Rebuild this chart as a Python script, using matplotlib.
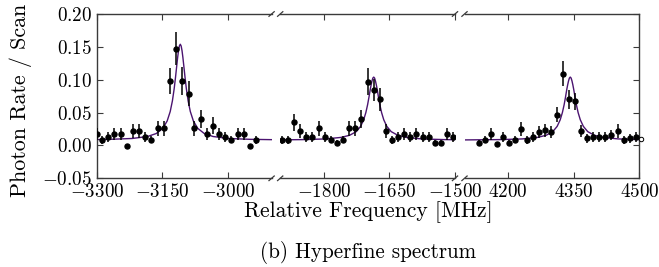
import matplotlib.pyplot as plt
from matplotlib.ticker import FuncFormatter

plt.rcParams['font.family'] = 'serif'
plt.rcParams['font.serif'] = ['cmr10']
plt.rcParams['mathtext.fontset'] = 'cm'
plt.rcParams['axes.formatter.use_mathtext'] = True

# --- measured points (relative frequency in MHz, photon rate / scan) ---
freq_a = [-3300, -3287, -3274, -3260, -3245, -3231, -3217, -3203, -3189, -3175,
          -3160, -3147, -3132, -3119, -3105, -3090, -3077, -3062, -3048, -3034,
          -3020, -3006, -2992, -2977, -2964, -2949, -2935]
rate_a = [0.017, 0.008, 0.013, 0.017, 0.017, -0.001, 0.022, 0.022, 0.013, 0.009,
          0.026, 0.026, 0.098, 0.147, 0.098, 0.079, 0.026, 0.040, 0.017, 0.030,
          0.017, 0.013, 0.009, 0.017, 0.017, -0.001, 0.008]
err_a = [0.009, 0.006, 0.008, 0.009, 0.009, 0.0, 0.010, 0.010, 0.008, 0.006,
         0.011, 0.011, 0.020, 0.025, 0.021, 0.019, 0.011, 0.014, 0.009, 0.013,
         0.009, 0.008, 0.006, 0.009, 0.009, 0.0, 0.006]

freq_b = [-1897, -1883, -1869, -1855, -1840, -1827, -1812, -1798, -1784, -1770,
          -1756, -1743, -1728, -1715, -1700, -1686, -1672, -1659, -1644, -1630,
          -1617, -1602, -1589, -1574, -1560, -1546, -1532, -1518, -1504]
rate_b = [0.008, 0.008, 0.035, 0.022, 0.013, 0.013, 0.026, 0.013, 0.009, 0.004,
          0.009, 0.026, 0.026, 0.040, 0.097, 0.084, 0.070, 0.022, 0.008, 0.013,
          0.017, 0.013, 0.017, 0.013, 0.013, 0.004, 0.004, 0.017, 0.013]
err_b = [0.006, 0.006, 0.013, 0.010, 0.008, 0.008, 0.011, 0.008, 0.006, 0.004,
         0.006, 0.011, 0.011, 0.014, 0.021, 0.017, 0.018, 0.010, 0.006, 0.008,
         0.009, 0.008, 0.009, 0.008, 0.008, 0.004, 0.004, 0.009, 0.008]

freq_c = [4133, 4147, 4160, 4174, 4188, 4202, 4216, 4230, 4244, 4257,
          4271, 4285, 4299, 4312, 4326, 4340, 4353, 4367, 4381, 4395,
          4408, 4422, 4436, 4451, 4464, 4478, 4492]
rate_c = [0.004, 0.009, 0.017, 0.002, 0.013, 0.004, 0.009, 0.025, 0.008, 0.013,
          0.020, 0.023, 0.020, 0.047, 0.109, 0.070, 0.067, 0.022, 0.011, 0.013,
          0.013, 0.013, 0.016, 0.022, 0.008, 0.011, 0.013]
err_c = [0.004, 0.006, 0.009, 0.002, 0.008, 0.004, 0.006, 0.010, 0.006, 0.008,
         0.009, 0.010, 0.009, 0.011, 0.019, 0.014, 0.013, 0.009, 0.007, 0.008,
         0.008, 0.008, 0.008, 0.010, 0.006, 0.007, 0.008]

# hollow point sitting on the right edge
edge_freq = [4505]
edge_rate = [0.010]

# --- fitted line shapes ---
fit_freq_a = [-3300, -3269, -3219, -3184, -3164, -3149, -3139, -3132, -3127, -3123,
              -3120, -3117, -3115, -3113, -3111, -3109, -3107, -3105, -3103, -3101,
              -3098, -3095, -3091, -3086, -3079, -3069, -3054, -3034, -2999, -2949, -2900]
fit_rate_a = [0.0089, 0.0093, 0.0106, 0.0136, 0.0181, 0.026, 0.0372, 0.0516, 0.0678, 0.086,
              0.1029, 0.1217, 0.1339, 0.1443, 0.1514, 0.154, 0.1514, 0.1443, 0.1339, 0.1217,
              0.1029, 0.086, 0.0678, 0.0516, 0.0372, 0.026, 0.0181, 0.0136, 0.0106, 0.0093, 0.0088]

fit_freq_b = [-1900, -1846, -1796, -1761, -1741, -1726, -1716, -1709, -1704, -1700,
              -1697, -1694, -1692, -1690, -1688, -1686, -1684, -1682, -1680, -1678,
              -1675, -1672, -1668, -1663, -1656, -1646, -1631, -1611, -1576, -1526, -1500]
fit_rate_b = [0.0085, 0.0089, 0.0099, 0.0122, 0.0155, 0.021, 0.029, 0.039, 0.050, 0.062,
              0.073, 0.085, 0.092, 0.098, 0.1025, 0.104, 0.1025, 0.098, 0.092, 0.085,
              0.073, 0.062, 0.050, 0.039, 0.029, 0.021, 0.0155, 0.0122, 0.0099, 0.0089, 0.0087]

fit_freq_c = [4100, 4182, 4232, 4267, 4287, 4302, 4312, 4319, 4324, 4328,
              4331, 4334, 4336, 4338, 4340, 4342, 4344, 4346, 4348, 4350,
              4353, 4356, 4360, 4365, 4372, 4382, 4397, 4417, 4452, 4500]
fit_rate_c = [0.0084, 0.0089, 0.0099, 0.0122, 0.0155, 0.021, 0.029, 0.039, 0.050, 0.062,
              0.073, 0.085, 0.092, 0.098, 0.1025, 0.104, 0.1025, 0.098, 0.092, 0.085,
              0.073, 0.062, 0.050, 0.039, 0.029, 0.021, 0.0155, 0.0122, 0.0099, 0.0089]

x_ranges = [(-3300, -2900), (-1900, -1500), (4100, 4500)]
x_ticks = [[-3300, -3150, -3000], [-1800, -1650, -1500], [4200, 4350, 4500]]
y_ticks = [-0.05, 0.0, 0.05, 0.10, 0.15, 0.20]

SPINE = '#3a3a3a'
FIT_COLOR = '#4b1470'
W, H = 659, 267


def break_marks(ax, at_x):
    # little "/" strokes where the axis is cut
    dx, dy = 0.015, 0.014
    kw = dict(transform=ax.transAxes, color=SPINE, lw=0.9, clip_on=False)
    for y in (0, 1):
        ax.plot([at_x - dx, at_x + dx], [y - dy, y + dy], **kw)


fig = plt.figure(figsize=(W / 100, H / 100), dpi=100)
lefts = [96.8, 280.2, 464.5]
axes = [fig.add_axes([l / W, 1 - 178.3 / H, 174.8 / W, 164.3 / H]) for l in lefts]

series = [(freq_a, rate_a, err_a, fit_freq_a, fit_rate_a),
          (freq_b, rate_b, err_b, fit_freq_b, fit_rate_b),
          (freq_c, rate_c, err_c, fit_freq_c, fit_rate_c)]

for i, (ax, (fx, fy, fe, lx, ly)) in enumerate(zip(axes, series)):
    ax.plot(lx, ly, color=FIT_COLOR, lw=1.0, zorder=2)
    ax.errorbar(fx, fy, yerr=fe, fmt='o', color='black', ms=3.6, elinewidth=1.1,
                capsize=0, zorder=3)
    ax.set_xlim(*x_ranges[i])
    ax.set_ylim(-0.05, 0.20)
    ax.set_xticks(x_ticks[i])
    ax.set_yticks(y_ticks)
    ax.xaxis.set_major_formatter(FuncFormatter(lambda v, p: r'$%d$' % v))
    ax.yaxis.set_major_formatter(FuncFormatter(lambda v, p: r'$%.2f$' % v))
    ax.tick_params(direction='in', length=4, width=0.8, color=SPINE,
                   top=True, bottom=True, labelsize=13.8, pad=3.5)
    for s in ax.spines.values():
        s.set_color(SPINE)
        s.set_linewidth(1.0)

axes[2].plot(edge_freq, edge_rate, 'o', ms=3.2, mfc='white', mec='black',
             mew=0.7, clip_on=False, zorder=4)

axes[0].spines['right'].set_visible(False)
axes[0].tick_params(left=True, right=False)
axes[1].spines['left'].set_visible(False)
axes[1].spines['right'].set_visible(False)
axes[1].tick_params(left=False, right=False, labelleft=False)
axes[2].spines['left'].set_visible(False)
axes[2].tick_params(left=False, right=True, labelleft=False, labelright=False)

break_marks(axes[0], 1)
break_marks(axes[1], 0)
break_marks(axes[1], 1)
break_marks(axes[2], 0)

fig.text(21 / W, 1 - 100 / H, 'Photon Rate / Scan', rotation=90,
         ha='center', va='center', fontsize=15.8)
fig.text(368 / W, 1 - 212 / H, 'Relative Frequency [MHz]',
         ha='center', va='center', fontsize=15.6)
fig.text(368 / W, 1 - 253 / H, '(b) Hyperfine spectrum',
         ha='center', va='center', fontsize=15.2)

fig.savefig('out.png', dpi=100, facecolor='white')
